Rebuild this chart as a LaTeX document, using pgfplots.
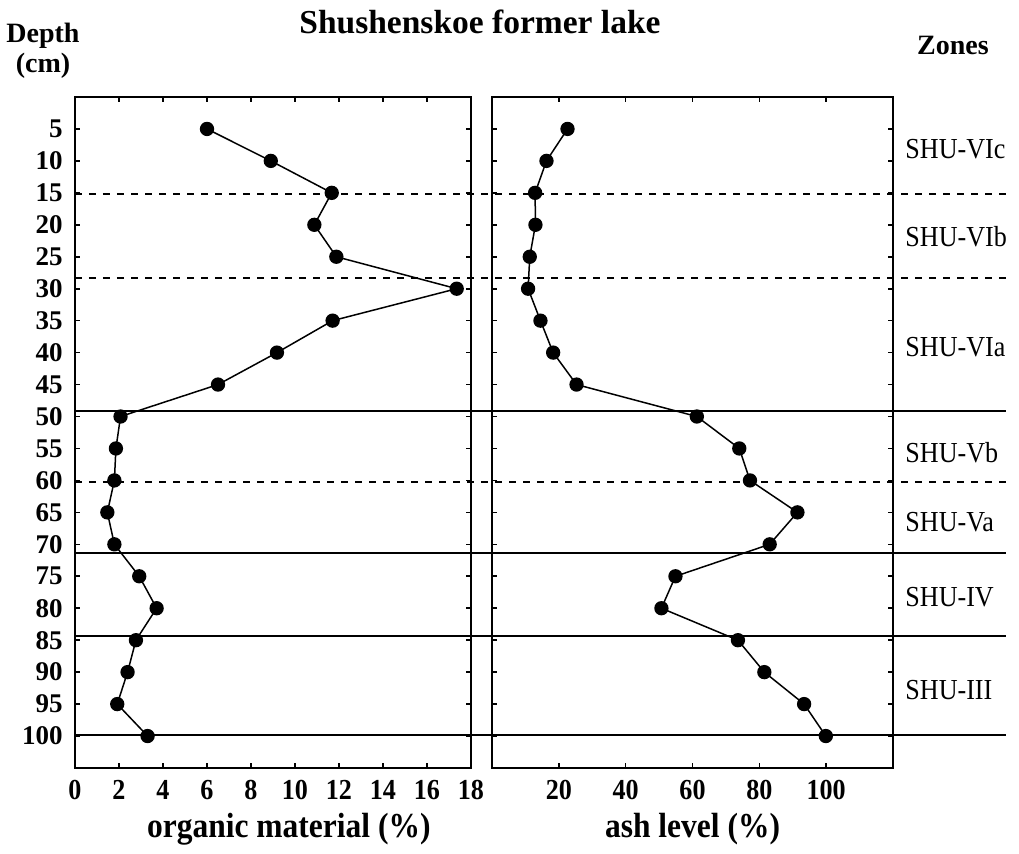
\documentclass[border=0pt]{standalone}
\usepackage{fontspec}
\setmainfont{Liberation Serif}
\newfontfamily\cond[FakeStretch=0.9]{Liberation Serif}
\usepackage{pgfplots}
\usepackage{pgfplotstable}
\pgfplotsset{compat=1.18}

\pgfplotstableread{
depth om
5 6.0
10 8.9
15 11.67
20 10.88
25 11.88
30 17.35
35 11.71
40 9.18
45 6.5
50 2.07
55 1.86
60 1.79
65 1.47
70 1.79
75 2.92
80 3.71
85 2.77
90 2.39
95 1.92
100 3.30
}\organic

\pgfplotstableread{
depth ash
5 22.6
10 16.3
15 12.9
20 13.0
25 11.3
30 10.8
35 14.5
40 18.3
45 25.3
50 61.3
55 74.0
60 77.2
65 91.4
70 83.1
75 54.9
80 50.7
85 73.6
90 81.5
95 93.4
100 99.9
}\ash

\pgfplotsset{
  panel/.style={
    scale only axis,
    height=335.5pt,
    ymin=0, ymax=105,
    y dir=reverse,
    ytick={5,10,...,100},
    axis line style={line width=1pt, black},
    every tick/.style={line width=0.8pt, black},
    tick align=inside,
    major tick length=2.5pt,
    xtick pos=both, ytick pos=both,
    xticklabel pos=lower,
    yticklabel pos=lower,
    /pgf/number format/assume math mode=true,
    xticklabel style={font=\cond\bfseries\fontsize{14.5}{16}\selectfont, anchor=center, yshift=-11pt},
    yticklabel style={font=\bfseries\fontsize{13.5}{15}\selectfont, anchor=east, inner sep=0pt, xshift=-6pt},
    xlabel style={font=\cond\bfseries\fontsize{17.5}{20}\selectfont},
    clip=false,
  },
  dataline/.style={black, line width=0.75pt, mark=*, mark size=3.2pt, mark options={fill=black}},
  zoneline/.style={black, line width=1pt, forget plot, mark=none},
}
\tikzset{zone/.style={anchor=west, inner sep=0pt, xshift=6pt, font=\cond\fontsize{14.5}{16}\selectfont}}

\begin{document}
\begin{tikzpicture}
\path[use as bounding box] (0,0) rectangle (509.5pt,427pt);

\begin{axis}[panel,
  at={(37.5pt,43pt)}, anchor=south west,
  width=198pt,
  xmin=0, xmax=18,
  xtick={0,2,...,18},
  xlabel={organic material (\%)},
  xlabel style={at={(axis description cs:0.54,0)}, anchor=center, yshift=-30.5pt},
]
\addplot[zoneline, dash pattern=on 3.5pt off 3.5pt] coordinates {(0,15.2) (42.3,15.2)};
\addplot[zoneline, dash pattern=on 3.5pt off 3.5pt] coordinates {(0,28.4) (42.3,28.4)};
\addplot[zoneline] coordinates {(0,49.2) (42.3,49.2)};
\addplot[zoneline, dash pattern=on 3.5pt off 3.5pt] coordinates {(0,60.3) (42.3,60.3)};
\addplot[zoneline] coordinates {(0,71.4) (42.3,71.4)};
\addplot[zoneline] coordinates {(0,84.4) (42.3,84.4)};
\addplot[zoneline] coordinates {(0,99.9) (42.3,99.9)};
\addplot[dataline] table[x=om, y=depth] {\organic};
\end{axis}

\begin{axis}[panel,
  at={(246pt,43pt)}, anchor=south west,
  width=200.5pt,
  xmin=0, xmax=120,
  xtick={20,40,60,80,100},
  yticklabels={},
  xlabel={ash level (\%)},
  xlabel style={at={(axis description cs:0.5,0)}, anchor=center, yshift=-30.5pt},
]
\addplot[dataline] table[x=ash, y=depth] {\ash};
\node[zone] at (axis cs:120,8.2) {SHU-VIc};
\node[zone] at (axis cs:120,21.8) {SHU-VIb};
\node[zone] at (axis cs:120,39.2) {SHU-VIa};
\node[zone] at (axis cs:120,55.7) {SHU-Vb};
\node[zone] at (axis cs:120,66.6) {SHU-Va};
\node[zone] at (axis cs:120,78.3) {SHU-IV};
\node[zone] at (axis cs:120,92.8) {SHU-III};
\end{axis}

\node[font=\bfseries\fontsize{16.75}{19}\selectfont] at (240pt,416pt) {Shushenskoe former lake};
\node[font=\bfseries\fontsize{14}{15}\selectfont, align=center] at (21.5pt,401.5pt) {Depth\\(cm)};
\node[font=\bfseries\fontsize{14}{16}\selectfont] at (476.5pt,404.5pt) {Zones};
\end{tikzpicture}
\end{document}
